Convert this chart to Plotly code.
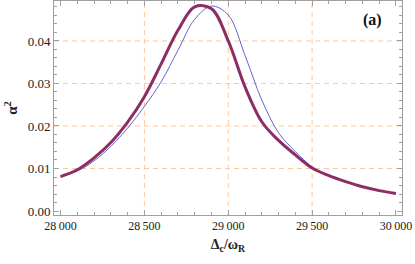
import plotly.graph_objects as go

# Data (Δc/ωR sample positions and α² values)
x_vals = [28000, 28100, 28200, 28300, 28400, 28500, 28600, 28700, 28800, 28900, 29000,
          29100, 29200, 29300, 29400, 29500, 29600, 29700, 29800, 29900, 30000]
y_thick = [0.0081, 0.0097, 0.0125, 0.0161, 0.0209, 0.0269, 0.0346, 0.0425, 0.0480, 0.0476, 0.0400,
           0.0292, 0.0210, 0.0166, 0.0132, 0.0101, 0.0083, 0.0069, 0.0057, 0.0048, 0.0041]
y_thin = [0.0081, 0.0094, 0.0118, 0.0152, 0.0195, 0.0246, 0.0304, 0.0378, 0.0451, 0.0482, 0.0461,
          0.0366, 0.0261, 0.0184, 0.0140, 0.0104, 0.0084, 0.0070, 0.0057, 0.0048, 0.0041]

x_ticks = [28000, 28500, 29000, 29500, 30000]
x_labels = ["28\u2009000", "28\u2009500", "29\u2009000", "29\u2009500", "30\u2009000"]
y_ticks = [0.00, 0.01, 0.02, 0.03, 0.04]
y_labels = ["0.00", "0.01", "0.02", "0.03", "0.04"]
x_grid = [28500, 29000, 29500]
y_grid = [0.01, 0.02, 0.03, 0.04]

SERIF = "Liberation Serif, Times New Roman, DejaVu Serif, serif"

fig = go.Figure()
fig.add_trace(go.Scatter(x=x_vals, y=y_thin, mode="lines", line_shape="spline",
                         line=dict(color="rgb(100,100,200)", width=1, smoothing=1)))
fig.add_trace(go.Scatter(x=x_vals, y=y_thick, mode="lines", line_shape="spline",
                         line=dict(color="rgb(140,45,100)", width=3, smoothing=1)))

grid_style = dict(color="rgb(255,200,150)", width=1, dash="5px,4px")
shapes = []
for gx in x_grid:
    shapes.append(dict(type="line", xref="x", yref="paper", x0=gx, x1=gx, y0=0, y1=1,
                       line=grid_style, layer="below"))
for gy in y_grid:
    shapes.append(dict(type="line", xref="paper", yref="y", x0=0, x1=1, y0=gy, y1=gy,
                       line=grid_style, layer="below"))

axis_common = dict(showline=True, linecolor="#a0a0a0", linewidth=1, mirror="allticks",
                   ticks="inside", ticklen=5, tickcolor="#a0a0a0", showgrid=False,
                   zeroline=False, automargin=False)

fig.update_layout(
    width=415, height=264,
    margin=dict(l=54, r=13, t=1, b=49),
    paper_bgcolor="white", plot_bgcolor="white",
    showlegend=False,
    shapes=shapes,
    xaxis=dict(range=[27961, 30036], tickvals=x_ticks, ticktext=x_labels,
               tickfont=dict(family=SERIF, size=12, color="#222"),
               minor=dict(dtick=100, tick0=28000, ticks="inside", ticklen=3, tickcolor="#a0a0a0"),
               title=dict(text="<b>Δ<sub>c</sub>/ω<sub>R</sub></b>",
                          font=dict(family=SERIF, size=14, color="#222"), standoff=6),
               **axis_common),
    yaxis=dict(range=[-0.00094, 0.0494], tickvals=y_ticks, ticktext=y_labels,
               tickfont=dict(family=SERIF, size=13, color="#222"),
               minor=dict(dtick=0.002, tick0=0, ticks="inside", ticklen=3, tickcolor="#a0a0a0"),
               title=dict(text="<b>α<sup>2</sup></b>",
                          font=dict(family=SERIF, size=15, color="#222"), standoff=6),
               **axis_common),
    annotations=[dict(text="<b>(a)</b>", xref="paper", yref="paper", x=0.914, y=0.91,
                      xanchor="center", yanchor="middle",
                      showarrow=False, font=dict(family=SERIF, size=16, color="#111"))],
)

fig.write_html("out.html", config={"displayModeBar": False},
               post_script="document.body.style.margin='0';document.body.style.overflow='hidden';")
